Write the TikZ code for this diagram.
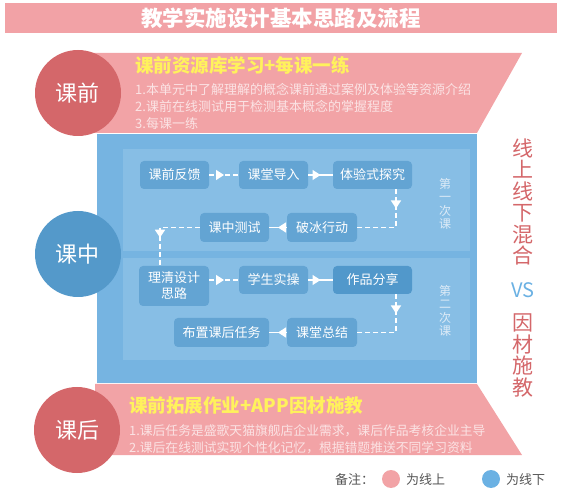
\documentclass[tikz,border=0pt]{standalone}
\usepackage{fontspec}
\setmainfont{Noto Sans CJK SC}
\usetikzlibrary{arrows.meta,decorations.markings}

\definecolor{titlepink}{HTML}{F2A2A6}
\definecolor{bandpink}{HTML}{F2A3A6}
\definecolor{circlered}{HTML}{D4676A}
\definecolor{outerblue}{HTML}{76B4E1}
\definecolor{panelblue}{HTML}{87BEE5}
\definecolor{nodeblue}{HTML}{63A4D3}
\definecolor{nodedark}{HTML}{5198CB}
\definecolor{circleblue}{HTML}{5499CA}
\definecolor{yellowtxt}{HTML}{FFF25C}
\definecolor{linetxt}{HTML}{FBE3E4}
\definecolor{paletxt}{HTML}{DDEBF7}
\definecolor{legendgray}{HTML}{555555}
\definecolor{vsblue}{HTML}{6BB1E3}

\begin{document}
\begin{tikzpicture}[x=1pt,y=-1pt,
    every node/.style={font=\fontsize{13}{17}\selectfont,inner sep=0pt},
    flowbox/.style={fill=nodeblue,rounded corners=4pt,text=white,minimum height=28pt,align=center},
    flowline/.style={draw=white,line width=1.5pt,dash pattern=on 5pt off 3pt},
    solidline/.style={draw=white,line width=1.5pt},
    midarrow/.style={postaction={decorate},decoration={markings,
        mark=at position #1 with {\arrow{Triangle[width=10pt,length=8pt]}}}},
    midarrow/.default=0.5,
    bigcircle/.style={circle,minimum size=86pt,text=white,font=\fontsize{22}{24}\selectfont},
    sidetext/.style={text=circlered,align=center,font=\fontsize{21}{21.5}\selectfont}]
    \useasboundingbox (0,0) rectangle (563,497);
    % title
    \fill[titlepink] (5,3) rectangle (557,33);
    \node[text=white,font=\fontsize{21.5}{24}\selectfont\bfseries] (title) at (281,18) {教学实施设计基本思路及流程};
    % bands and panels
    \fill[bandpink] (88,53) -- (522,53) -- (477,133) -- (88,133) -- cycle;
    \fill[outerblue] (97,134.5) rectangle (477,383);
    \fill[panelblue] (123,149) rectangle (470,251);
    \fill[panelblue] (123,258) rectangle (470,360);
    \fill[bandpink] (95,384) -- (477,384) -- (522,455) -- (95,455) -- cycle;
    % before class
    \node[anchor=west,text=yellowtxt,font=\fontsize{18.5}{20}\selectfont\bfseries] (pretitle) at (135,65) {课前资源库学习+每课一练};
    \node[anchor=north west,align=left,text=linetxt] (prelist) at (135,83.5)
        {1.本单元中了解理解的概念课前通过案例及体验等资源介绍\\2.课前在线测试用于检测基本概念的掌握程度\\3.每课一练};
    % after class
    \node[anchor=west,text=yellowtxt,font=\fontsize{18.5}{20}\selectfont\bfseries] (posttitle) at (129,406) {课前拓展作业+APP因材施教};
    \node[anchor=north west,align=left,text=linetxt,font=\fontsize{12.8}{16.5}\selectfont] (postlist) at (129,424.5)
        {1.课后任务是盛歌天猫旗舰店企业需求，课后作品考核企业主导\\2.课后在线测试实现个性化记忆，根据错题推送不同学习资料};
    % circles
    \node[bigcircle,fill=circlered] (pre) at (78,93) {课前};
    \node[bigcircle,fill=circleblue] (mid) at (78,254) {课中};
    \node[bigcircle,fill=circlered] (post) at (77,430) {课后};
    % first lesson
    \node[flowbox,minimum width=69pt] (fankui) at (174.5,175) {课前反馈};
    \node[flowbox,minimum width=69pt] (daoru) at (273.5,175) {课堂导入};
    \node[flowbox,minimum width=79pt] (tanjiu) at (372.5,175) {体验式探究};
    \node[flowbox,minimum width=69pt,minimum height=29pt] (ceshi) at (234.5,227.5) {课中测试};
    \node[flowbox,minimum width=70pt,minimum height=29pt] (pobing) at (322,227.5) {破冰行动};
    % second lesson
    \node[flowbox,minimum width=70pt,minimum height=40pt,font=\fontsize{13}{16}\selectfont] (liqing) at (174,286) {理清设计\\思路};
    \node[flowbox,minimum width=69pt] (shicao) at (273.5,280) {学生实操};
    \node[flowbox,minimum width=79pt,fill=nodedark] (fenxiang) at (372.5,280) {作品分享};
    \node[flowbox,minimum width=95pt,minimum height=29pt] (buzhi) at (221.5,332.5) {布置课后任务};
    \node[flowbox,minimum width=70pt,minimum height=29pt] (zongjie) at (322,332.5) {课堂总结};
    % connectors
    \draw[flowline,midarrow] (fankui) -- (daoru);
    \draw[solidline,midarrow] (daoru) -- (tanjiu);
    \draw[flowline,midarrow=0.25] ([xshift=23.5pt]tanjiu.south) |- (pobing);
    \draw[solidline,midarrow] (pobing) -- (ceshi);
    \draw[flowline,midarrow=0.64] (ceshi) -| ([xshift=-14pt]liqing.north);
    \draw[flowline,midarrow] (liqing.east |- shicao) -- (shicao);
    \draw[solidline,midarrow] (shicao) -- (fenxiang);
    \draw[flowline,midarrow=0.25] ([xshift=23.5pt]fenxiang.south) |- (zongjie);
    \draw[solidline,midarrow] (zongjie) -- (buzhi);
    % lesson labels
    \node[text=paletxt,align=center,font=\fontsize{12}{13.5}\selectfont] (firstlesson) at (445,204) {第\\一\\次\\课};
    \node[text=paletxt,align=center,font=\fontsize{12}{13.5}\selectfont] (secondlesson) at (445,311) {第\\二\\次\\课};
    % right side
    \node[sidetext] (mixed) at (523,202) {线\\上\\线\\下\\混\\合};
    \node[text=vsblue,font=\fontsize{20}{22}\selectfont] (vs) at (523,290) {VS};
    \node[sidetext] (yincai) at (523,355.5) {因\\材\\施\\教};
    % legend
    \node[anchor=west,text=legendgray] (note) at (335,480) {备注：};
    \node[circle,fill=bandpink,minimum size=18pt] (onlinedot) at (391,479) {};
    \node[anchor=west,text=legendgray] (onlinetxt) at (406,480) {为线上};
    \node[circle,fill=vsblue,minimum size=18pt] (offlinedot) at (491,479) {};
    \node[anchor=west,text=legendgray] (offlinetxt) at (506,480) {为线下};
\end{tikzpicture}
\end{document}
